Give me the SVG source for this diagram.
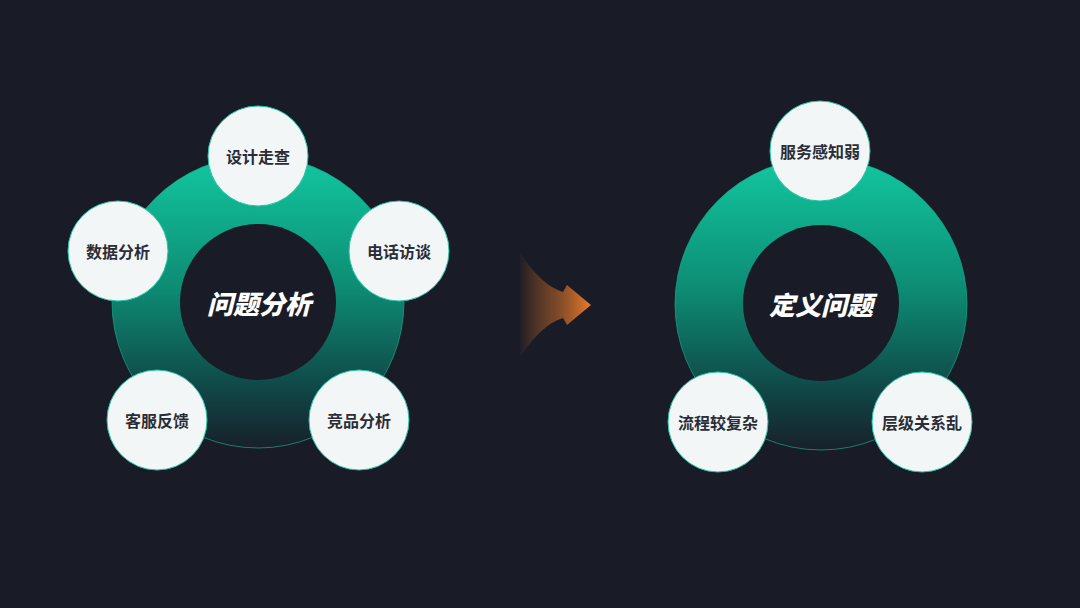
<svg xmlns="http://www.w3.org/2000/svg" width="1080" height="608" viewBox="0 0 1080 608">
<style>
.ring{stroke:#15a98a;stroke-width:1;stroke-opacity:0.7}
.hole{fill:#191b26}
.node{fill:#f3f6f7;stroke:#22c4a2;stroke-width:1}
.lbl{font-family:"Noto Sans CJK SC","Noto Sans",sans-serif;font-size:16px;font-weight:bold;fill:#2b2d36;text-anchor:middle;dominant-baseline:central}
.title{font-family:"Noto Sans CJK SC","Noto Sans",sans-serif;font-size:26px;font-weight:900;font-style:italic;fill:#ffffff;text-anchor:middle;dominant-baseline:central}
</style>
<defs>
<linearGradient id="ringG" x1="0" y1="0" x2="0" y2="1">
<stop offset="0" stop-color="#12c8a0"/>
<stop offset="0.45" stop-color="#0d8c74"/>
<stop offset="0.8" stop-color="#104646"/>
<stop offset="1" stop-color="#18202a"/>
</linearGradient>
<linearGradient id="arrowG" x1="520" y1="0" x2="591" y2="0" gradientUnits="userSpaceOnUse">
<stop offset="0" stop-color="#e2762a" stop-opacity="0.03"/>
<stop offset="0.5" stop-color="#b8642a" stop-opacity="0.6"/>
<stop offset="1" stop-color="#ea7b2a"/>
</linearGradient>
</defs>
<rect width="1080" height="608" fill="#191b26"/>

<g id="left-ring">
<circle class="ring" cx="258" cy="302" r="146" fill="url(#ringG)"/>
<circle class="hole" cx="258" cy="302" r="78"/>
<text class="title" x="259" y="302">问题分析</text>
</g>
<g id="node-sheji">
<circle class="node" cx="258" cy="156" r="50"/>
<text class="lbl" x="258" y="156">设计走查</text>
</g>
<g id="node-shuju">
<circle class="node" cx="118" cy="251" r="50"/>
<text class="lbl" x="118" y="251">数据分析</text>
</g>
<g id="node-dianhua">
<circle class="node" cx="399" cy="251" r="50"/>
<text class="lbl" x="399" y="251">电话访谈</text>
</g>
<g id="node-kefu">
<circle class="node" cx="157" cy="420" r="50"/>
<text class="lbl" x="157" y="420">客服反馈</text>
</g>
<g id="node-jingpin">
<circle class="node" cx="359" cy="420" r="50"/>
<text class="lbl" x="359" y="420">竞品分析</text>
</g>

<g id="connectors">
<path d="M520,253 Q542,286 563,292 L567,285 L591,305 L567,325 L563,318 Q542,324 520,357 Z" fill="url(#arrowG)"/>
</g>

<g id="right-ring">
<circle class="ring" cx="821" cy="304" r="146" fill="url(#ringG)"/>
<circle class="hole" cx="821" cy="303" r="78"/>
<text class="title" x="821" y="303">定义问题</text>
</g>
<g id="node-fuwu">
<circle class="node" cx="820" cy="151" r="50"/>
<text class="lbl" x="820" y="151">服务感知弱</text>
</g>
<g id="node-liucheng">
<circle class="node" cx="718" cy="422" r="50"/>
<text class="lbl" x="718" y="422">流程较复杂</text>
</g>
<g id="node-cengji">
<circle class="node" cx="922" cy="422" r="50"/>
<text class="lbl" x="922" y="422">层级关系乱</text>
</g>
</svg>
